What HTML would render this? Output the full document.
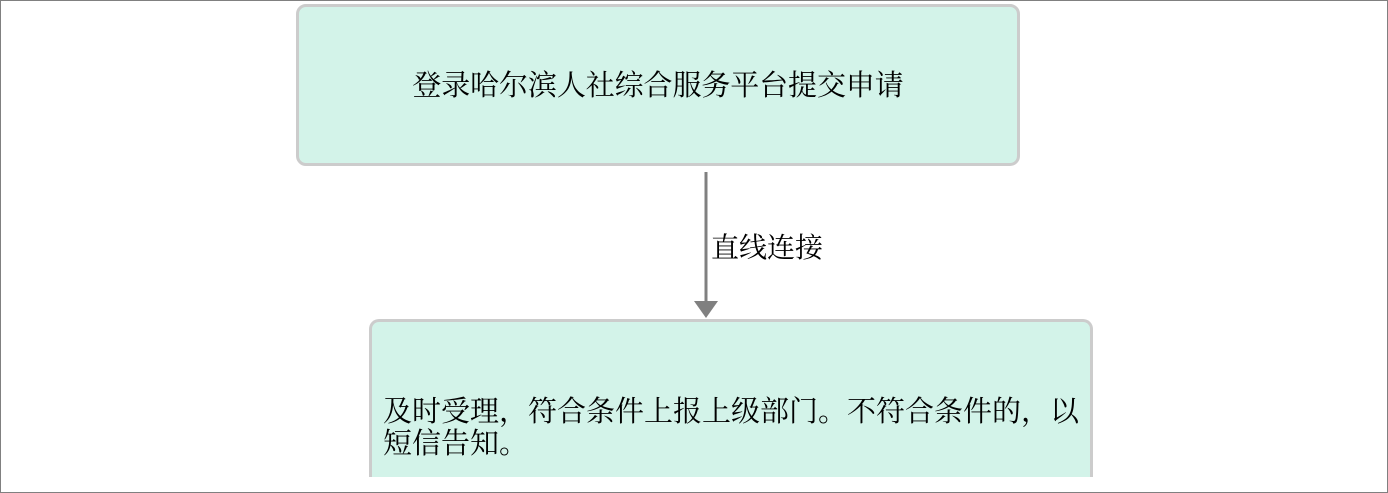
<!DOCTYPE html>
<html><head><meta charset="utf-8"><style>
html,body{margin:0;padding:0;background:#fff;width:1388px;height:493px;overflow:hidden;}
body{position:relative;font-family:"Liberation Serif","Noto Serif CJK SC","Noto Sans CJK SC",serif;color:#000;}
.frame{position:absolute;left:0;top:0;width:1386px;height:491px;border:1px solid #808080;}
.box{position:absolute;background:#d3f3e9;border:3px solid #cccccc;border-radius:10px;box-sizing:border-box;}
.t1{position:absolute;left:0;right:0;top:61px;text-align:center;font-size:29px;line-height:36px;letter-spacing:-0.1px;white-space:nowrap;}
.t2{position:absolute;left:11px;top:74px;font-size:29px;line-height:32px;white-space:nowrap;}
.lbl{position:absolute;left:711px;top:232px;font-size:28px;line-height:34px;white-space:nowrap;}
</style></head><body>
<div class="box" style="left:296px;top:4px;width:724px;height:162px;"><div class="t1">登录哈尔滨人社综合服务平台提交申请</div></div>
<svg style="position:absolute;left:0;top:0" width="1388" height="493">
<line x1="706" y1="172" x2="706" y2="304" stroke="#808080" stroke-width="3"/>
<polygon points="694,301 718,301 706,318" fill="#808080"/>
</svg>
<div class="lbl">直线连接</div>
<div class="box" style="left:369px;top:319px;width:724px;height:158px;border-bottom:none;border-radius:10px 10px 0 0;"><div class="t2">及时受理，符合条件上报上级部门。不符合条件的，以<br>短信告知。</div></div>
<div class="frame"></div>
</body></html>
